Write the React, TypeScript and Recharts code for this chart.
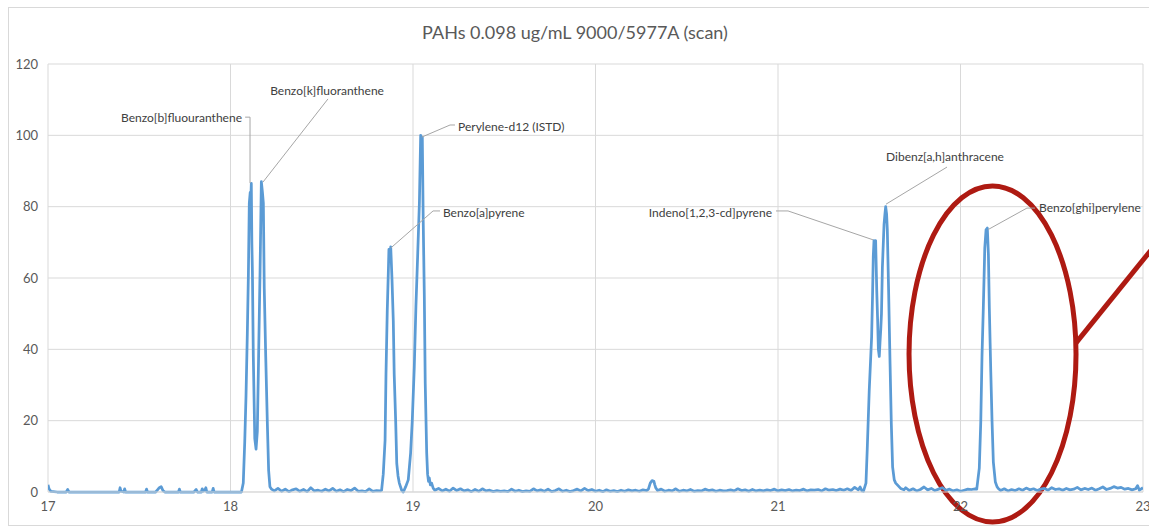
import React from 'react'
import {
  LineChart,
  Line,
  XAxis,
  YAxis,
  CartesianGrid,
  ReferenceLine,
  ReferenceDot,
  ReferenceArea,
} from 'recharts'

// 保留时间 (min) / 相对丰度 (%) — 从图上读出
const baseline1 = [
  [17.0, 2.0], [17.005, 1.0], [17.015, 0.2], [17.05, 0], [17.1, 0], [17.108, 0.7], [17.115, 0],
  [17.2, 0], [17.3, 0], [17.39, 0], [17.395, 1.2], [17.4, 0.2], [17.415, 0], [17.42, 0.9],
  [17.425, 0], [17.5, 0], [17.535, 0], [17.54, 0.8], [17.545, 0], [17.59, 0], [17.6, 0.6],
  [17.61, 1.2], [17.62, 1.5], [17.63, 0.4], [17.64, 0], [17.7, 0], [17.715, 0], [17.72, 0.8],
  [17.725, 0], [17.8, 0], [17.812, 0.7], [17.818, 0], [17.84, 0], [17.845, 0.9], [17.85, 0.2],
  [17.86, 0.6], [17.865, 1.2], [17.87, 0], [17.9, 0], [17.905, 1.0], [17.91, 0], [18.0, 0], [18.06, 0],
]

const peaksBK = [
  [18.07, 2.5], [18.078, 14], [18.085, 27], [18.092, 44], [18.098, 61], [18.103, 81], [18.108, 84],
  [18.11, 80], [18.114, 86.5], [18.117, 70], [18.12, 62], [18.125, 38], [18.133, 15], [18.14, 12],
  [18.147, 17], [18.154, 38], [18.162, 62], [18.169, 87], [18.175, 84], [18.18, 81], [18.185, 57],
  [18.193, 38], [18.202, 19], [18.209, 6], [18.216, 1.5], [18.225, 0.8],
]

const baseline2 = [
  [18.24, 0.3], [18.26, 1.0], [18.28, 0.2], [18.3, 0.8], [18.32, 0.1], [18.34, 0.6], [18.36, 0.9],
  [18.38, 0.2], [18.4, 0.7], [18.42, 0.1], [18.44, 1.2], [18.46, 0.3], [18.48, 0.5], [18.5, 0.2],
  [18.52, 0.8], [18.54, 0.3], [18.56, 1.0], [18.58, 0.2], [18.6, 0.6], [18.62, 0.1], [18.64, 0.7],
  [18.66, 0.4], [18.68, 1.1], [18.7, 0.2], [18.72, 0.3], [18.74, 0.1], [18.76, 0.9], [18.78, 0.2],
  [18.8, 0.4], [18.82, 0.3],
]

const peaksAP = [
  [18.828, 0.5], [18.837, 5], [18.847, 14.5], [18.852, 33], [18.859, 51], [18.865, 62], [18.868, 68],
  [18.873, 66], [18.878, 68.7], [18.885, 59.5], [18.892, 48], [18.897, 33], [18.905, 20], [18.911, 8],
  [18.918, 4.5], [18.925, 2.5], [18.938, 0.5], [18.947, 0], [18.96, 1.5], [18.974, 3.4], [18.987, 11],
  [18.996, 20], [19.007, 35], [19.016, 52], [19.026, 67], [19.035, 81], [19.042, 100], [19.047, 97],
  [19.051, 99.5], [19.056, 76], [19.062, 55], [19.067, 30.5], [19.075, 11], [19.08, 5], [19.085, 3],
  [19.089, 4], [19.095, 2], [19.102, 2.5], [19.111, 1], [19.12, 0.5],
]

const baseline3 = [
  [19.14, 1.0], [19.16, 0.3], [19.18, 0.8], [19.2, 0.2], [19.22, 1.1], [19.24, 0.4], [19.26, 0.9],
  [19.28, 0.3], [19.3, 0.6], [19.32, 0.1], [19.34, 0.7], [19.36, 0.2], [19.38, 0.9], [19.4, 0.3],
  [19.42, 0.5], [19.44, 0.1], [19.46, 0.4], [19.48, 0.2], [19.5, 0.3], [19.52, 0.1], [19.54, 0.8],
  [19.56, 0.2], [19.58, 0.5], [19.6, 0.1], [19.62, 0.3], [19.64, 0.2], [19.66, 0.9], [19.68, 0.3],
  [19.7, 0.6], [19.72, 0.2], [19.74, 0.8], [19.76, 0.1], [19.78, 0.4], [19.8, 0.9], [19.82, 0.2],
  [19.84, 0.5], [19.86, 0.1], [19.88, 0.4], [19.9, 0.8], [19.92, 0.3], [19.94, 1.0], [19.96, 0.4],
  [19.98, 0.7], [20.0, 0.2], [20.02, 0.5], [20.04, 0.1], [20.06, 0.6], [20.08, 0.2], [20.1, 0.4],
  [20.12, 0.1], [20.14, 0.5], [20.16, 0.2], [20.18, 0.6], [20.2, 0.3], [20.22, 0.5], [20.24, 0.2],
  [20.26, 0.6], [20.28, 0.4], [20.29, 0.8], [20.3, 2.5], [20.31, 3.2], [20.32, 3.0], [20.325, 2.0],
  [20.33, 1.2], [20.34, 0.4], [20.36, 0.8], [20.38, 0.2], [20.4, 0.5], [20.42, 0.3], [20.44, 0.9],
  [20.46, 0.2], [20.48, 0.5], [20.5, 0.3], [20.52, 0.7], [20.54, 0.2], [20.56, 0.4], [20.58, 0.3],
  [20.6, 0.8], [20.62, 0.4], [20.64, 0.6], [20.66, 0.2], [20.68, 0.5], [20.7, 0.3], [20.72, 0.4],
  [20.74, 0.6], [20.76, 0.3], [20.78, 0.9], [20.8, 0.4], [20.82, 0.6], [20.84, 0.2], [20.86, 0.7],
  [20.88, 0.3], [20.9, 0.5], [20.92, 0.3], [20.94, 0.6], [20.96, 0.4], [20.98, 0.8], [21.0, 0.3],
  [21.02, 0.6], [21.04, 0.4], [21.06, 0.7], [21.08, 0.3], [21.1, 0.5], [21.12, 0.4], [21.14, 0.8],
  [21.16, 0.3], [21.18, 0.6], [21.2, 0.5], [21.22, 0.7], [21.24, 0.3], [21.26, 0.9], [21.28, 0.5],
  [21.3, 0.7], [21.32, 0.4], [21.34, 0.8], [21.36, 0.5], [21.38, 0.9], [21.4, 0.4], [21.42, 1.3],
  [21.44, 0.6], [21.45, 1.4], [21.46, 0.3],
]

const peaksID = [
  [21.468, 0.2], [21.482, 2.5], [21.489, 12], [21.5, 28.6], [21.513, 43.5], [21.518, 55], [21.522, 66],
  [21.526, 70.5], [21.531, 69], [21.535, 70.5], [21.541, 56.6], [21.546, 48], [21.55, 40], [21.555, 38],
  [21.559, 42], [21.563, 45.5], [21.567, 50], [21.572, 63], [21.581, 75], [21.586, 78], [21.59, 80],
  [21.595, 78], [21.599, 73.5], [21.606, 56.6], [21.614, 36], [21.621, 19], [21.628, 7], [21.637, 3.4],
  [21.645, 2.5], [21.654, 2], [21.663, 1.5], [21.672, 1],
]

const baseline4 = [
  [21.69, 0.6], [21.7, 1.2], [21.72, 0.4], [21.74, 0.9], [21.76, 0.3], [21.78, 0.7], [21.8, 1.4],
  [21.82, 0.6], [21.84, 1.0], [21.86, 0.4], [21.88, 0.8], [21.9, 1.2], [21.92, 0.5], [21.94, 0.8],
  [21.96, 0.3], [21.98, 0.6], [22.0, 0.2], [22.02, 0.5], [22.04, 0.8], [22.06, 0.7], [22.08, 0.9],
]

const peakGHI = [
  [22.089, 0.8], [22.103, 6.7], [22.111, 19.6], [22.118, 38.4], [22.125, 51.6], [22.13, 62],
  [22.133, 68.4], [22.14, 73.5], [22.147, 74], [22.153, 66.4], [22.158, 51.6], [22.166, 33.6],
  [22.173, 19.6], [22.18, 8.4], [22.191, 2.8], [22.2, 1.5], [22.207, 1],
]

const baseline5 = [
  [22.22, 0.4], [22.24, 0.9], [22.26, 0.3], [22.28, 0.7], [22.3, 0.4], [22.32, 0.9], [22.34, 0.5],
  [22.36, 1.1], [22.38, 0.6], [22.4, 0.9], [22.42, 0.4], [22.44, 0.8], [22.46, 1.0], [22.48, 0.5],
  [22.5, 1.2], [22.52, 0.7], [22.54, 0.9], [22.56, 0.5], [22.58, 1.0], [22.6, 0.6], [22.62, 0.8],
  [22.64, 1.3], [22.66, 0.6], [22.68, 1.0], [22.7, 0.7], [22.72, 1.1], [22.74, 0.5], [22.76, 0.9],
  [22.78, 1.4], [22.8, 0.7], [22.82, 1.0], [22.84, 1.5], [22.86, 1.1], [22.88, 1.3], [22.9, 0.8],
  [22.92, 1.0], [22.94, 0.6], [22.96, 0.9], [22.97, 1.8], [22.98, 0.5], [23.0, 1.2],
]

const xTicks = [17, 18, 19, 20, 21, 22, 23]
const yTicks = [0, 20, 40, 60, 80, 100, 120]

// 峰标注: 文字位置 (数据坐标)
const labels = [
  { text: 'Benzo[b]fluouranthene', t: 18.063, v: 104.9, anchor: 'end' },
  { text: 'Benzo[k]fluoranthene', t: 18.529, v: 112.7, anchor: 'middle' },
  { text: 'Perylene-d12 (ISTD)', t: 19.247, v: 102.6, anchor: 'start' },
  { text: 'Benzo[a]pyrene', t: 19.164, v: 78.5, anchor: 'start' },
  { text: 'Indeno[1,2,3-cd]pyrene', t: 20.967, v: 78.5, anchor: 'end' },
  { text: 'Dibenz[a,h]anthracene', t: 21.915, v: 94.2, anchor: 'middle' },
  { text: 'Benzo[ghi]perylene', t: 22.43, v: 79.9, anchor: 'start' },
]

// 引线 (折线点)
const leaders = [
  [[18.08, 105.1], [18.107, 105.1], [18.107, 86.6]],
  [[18.534, 110.2], [18.178, 86.9]],
  [[19.048, 99.5], [19.203, 102.9], [19.23, 102.9]],
  [[18.878, 68.4], [19.11, 78.8], [19.148, 78.8]],
  [[20.989, 78.8], [21.055, 78.8], [21.521, 70.7]],
  [[21.926, 91.1], [21.592, 80.7]],
  [[22.152, 73.6], [22.364, 79.6], [22.408, 79.6]],
]

const data = [...baseline1, ...peaksBK, ...baseline2, ...peaksAP, ...baseline3, ...peaksID, ...baseline4, ...peakGHI, ...baseline5]
  .map(([t, v]) => ({ t, v }))

const FONT = 'Lato, "Open Sans", sans-serif'
const RED = '#AE1A12'

export default function App() {
  return (
    <div style={{ position: 'fixed', left: 0, top: 0, width: 1149, height: 527, overflow: 'hidden', background: '#fff' }}>
      <div style={{ position: 'absolute', left: 8, top: 7, width: 1160, height: 517, border: '1px solid #d9d9d9', background: '#fff' }}>
        <div
          style={{
            position: 'absolute', left: 266, top: 13, width: 600, textAlign: 'center',
            fontFamily: FONT, fontSize: 18, lineHeight: '22px', color: '#595959',
          }}
        >
          PAHs 0.098 ug/mL 9000/5977A (scan)
        </div>
        <LineChart width={1160} height={517} data={data} margin={{ top: 56, right: 26, bottom: 0, left: 9 }}>
          <CartesianGrid stroke="#d9d9d9" />
          <XAxis
            dataKey="t"
            type="number"
            domain={[17, 23]}
            ticks={xTicks}
            allowDataOverflow
            height={33}
            tickSize={0}
            tickMargin={10}
            axisLine={{ stroke: '#d9d9d9' }}
            tick={{ fill: '#595959', fontSize: 13, fontFamily: FONT }}
          />
          <YAxis
            type="number"
            domain={[0, 120]}
            ticks={yTicks}
            width={30}
            tickSize={0}
            tickMargin={10}
            axisLine={false}
            tick={{ fill: '#595959', fontSize: 13, fontFamily: FONT }}
          />
          <Line
            type="linear"
            dataKey="v"
            stroke="#5B9BD5"
            strokeWidth={2.75}
            strokeLinejoin="round"
            dot={false}
            isAnimationActive={false}
          />
          {leaders.map((pts, i) =>
            pts.slice(1).map((p, j) => (
              <ReferenceLine
                key={`l${i}-${j}`}
                segment={[{ x: pts[j][0], y: pts[j][1] }, { x: p[0], y: p[1] }]}
                stroke="#a6a6a6"
                strokeWidth={1}
              />
            ))
          )}
          {labels.map((l) => (
            <ReferenceDot
              key={l.text}
              x={l.t}
              y={l.v}
              r={0}
              shape={(p: any) => (
                <text
                  x={p.cx}
                  y={p.cy}
                  textAnchor={l.anchor}
                  dominantBaseline="central"
                  fontFamily={FONT}
                  fontSize={12}
                  fill="#404040"
                >
                  {l.text}
                </text>
              )}
            />
          ))}
          <ReferenceArea
            x1={21.718}
            x2={22.633}
            y1={-8.4}
            y2={85.8}
            ifOverflow="visible"
            shape={(p: any) => (
              <ellipse
                cx={p.x + p.width / 2}
                cy={p.y + p.height / 2}
                rx={p.width / 2}
                ry={p.height / 2}
                fill="none"
                stroke={RED}
                strokeWidth={5}
              />
            )}
          />
          <ReferenceLine
            segment={[{ x: 22.633, y: 41.8 }, { x: 23.2, y: 77.7 }]}
            ifOverflow="visible"
            stroke={RED}
            strokeWidth={5}
          />
        </LineChart>
      </div>
    </div>
  )
}
